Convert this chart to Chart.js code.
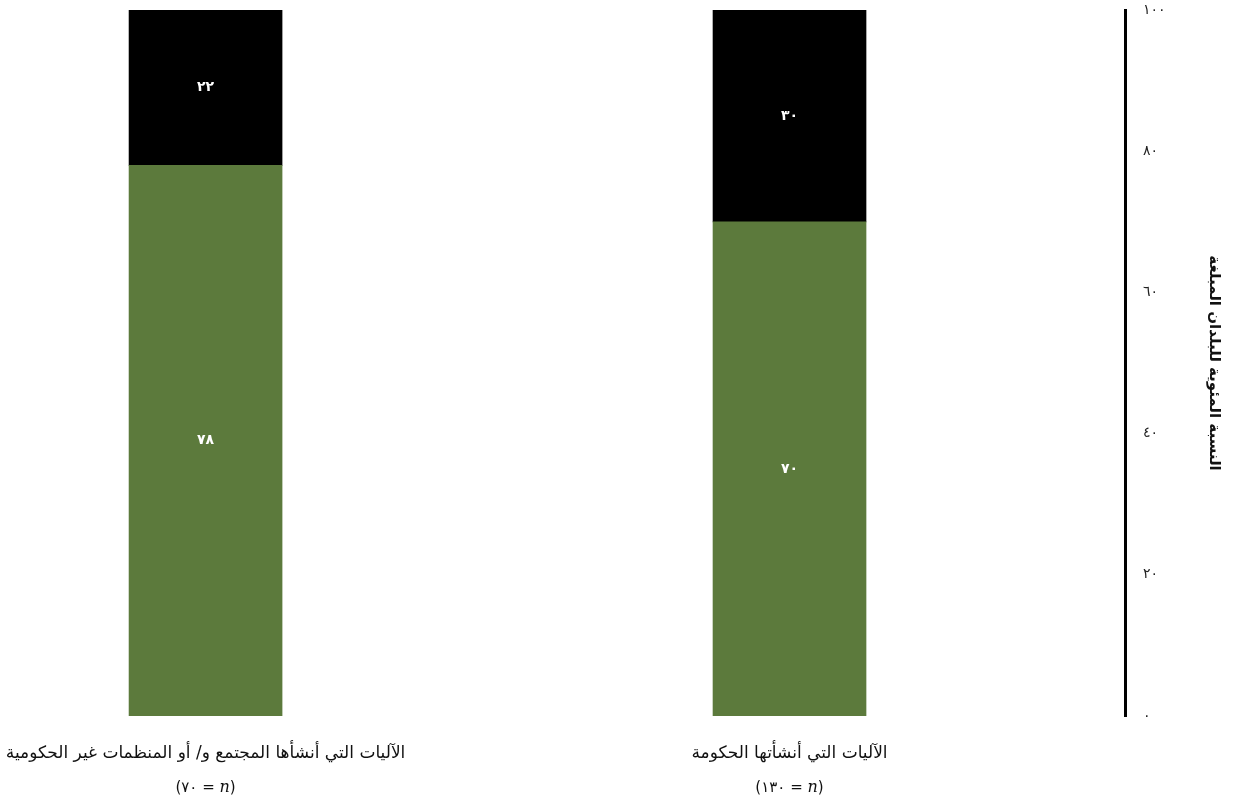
<!DOCTYPE html>
<html lang="ar">
<head>
<meta charset="utf-8">
<title>الآليات</title>
<script src="https://cdn.jsdelivr.net/npm/chart.js@4.4.1/dist/chart.umd.min.js"></script>
<style>
  html, body { margin: 0; padding: 0; background: #fff; }
  #wrap { width: 1243px; height: 796px; position: relative; }
</style>
</head>
<body>
<div id="wrap"><canvas id="chart"></canvas></div>
<script>
// categories, right to left
const categories = ['الآليات التي أنشأتها الحكومة', 'الآليات التي أنشأها المجتمع و/ أو المنظمات غير الحكومية'];
const sampleSizes = [130, 70];
const greenValues = [70, 78];
const blackValues = [30, 22];
const yTicks = [0, 20, 40, 60, 80, 100];
const yTitle = 'النسبة المئوية للبلدان المبلغة';

const green = '#5c7a3c';
const arabicFont = '"DejaVu Sans", sans-serif';

const AR_DIGITS = '٠١٢٣٤٥٦٧٨٩';
const toArabic = n => String(n).replace(/[0-9]/g, d => AR_DIGITS[+d]);

// value labels in the middle of every segment
const segmentLabels = {
  id: 'segmentLabels',
  afterDatasetsDraw(chart) {
    const ctx = chart.ctx;
    ctx.save();
    ctx.fillStyle = '#fff';
    ctx.font = 'bold 14px ' + arabicFont;
    ctx.textAlign = 'center';
    ctx.textBaseline = 'middle';
    chart.data.datasets.forEach((ds, di) => {
      chart.getDatasetMeta(di).data.forEach((bar, i) => {
        const { x, y, base } = bar.getProps(['x', 'y', 'base'], true);
        ctx.fillText(toArabic(ds.data[i].y), x, (y + base) / 2);
      });
    });
    ctx.restore();
  }
};

// category names under the bars, with "(N = n)" on a second line
const categoryLabels = {
  id: 'categoryLabels',
  afterDraw(chart) {
    const { ctx, chartArea, scales: { x } } = chart;
    ctx.save();
    ctx.fillStyle = '#111';
    ctx.textBaseline = 'alphabetic';
    categories.forEach((name, i) => {
      const cx = x.getPixelForValue(i);
      ctx.font = '17px ' + arabicFont;
      ctx.textAlign = 'center';
      ctx.direction = 'rtl';
      ctx.fillText(name, cx, chartArea.bottom + 42);

      ctx.direction = 'ltr';
      ctx.textAlign = 'left';
      const plain = '15px ' + arabicFont;
      const italic = 'italic 16px "DejaVu Serif", "Liberation Serif", serif';
      const parts = [['(', plain], [toArabic(sampleSizes[i]), plain], [' = ', plain], ['n', italic], [')', plain]];
      let total = 0;
      parts.forEach(([t, f]) => { ctx.font = f; total += ctx.measureText(t).width; });
      let px = cx - total / 2;
      parts.forEach(([t, f]) => {
        ctx.font = f;
        ctx.fillText(t, px, chartArea.bottom + 76);
        px += ctx.measureText(t).width;
      });
    });
    ctx.restore();
  }
};

const toPoints = vals => vals.map((v, i) => ({ x: i, y: v }));

new Chart(document.getElementById('chart'), {
  type: 'bar',
  data: {
    datasets: [
      { data: toPoints(greenValues), backgroundColor: green, borderWidth: 0, barThickness: 153 },
      { data: toPoints(blackValues), backgroundColor: '#000', borderWidth: 0, barThickness: 153 }
    ]
  },
  options: {
    responsive: true,
    maintainAspectRatio: false,
    animation: false,
    layout: { padding: { top: 10, bottom: 80, left: 0, right: 0 } },
    plugins: { legend: { display: false }, tooltip: { enabled: false } },
    scales: {
      x: {
        type: 'linear',
        reverse: true,
        stacked: true,
        offset: false,
        min: -0.5745,
        max: 1.352,
        display: false
      },
      y: {
        position: 'right',
        stacked: true,
        min: 0,
        max: 100,
        afterBuildTicks: s => { s.ticks = yTicks.map(v => ({ value: v })); },
        afterFit: s => { s.width = 118; s.paddingTop = 0; s.paddingBottom = 0; },
        grid: { display: false, drawTicks: false },
        border: { display: true, color: '#000', width: 3 },
        ticks: {
          padding: 18,
          color: '#222',
          font: { size: 14, family: arabicFont },
          callback: v => toArabic(v)
        },
        title: {
          display: true,
          text: yTitle,
          color: '#111',
          font: { size: 15, weight: 'bold', family: arabicFont },
          padding: { top: 20, bottom: 0 }
        }
      }
    }
  },
  plugins: [segmentLabels, categoryLabels]
});
</script>
</body>
</html>
